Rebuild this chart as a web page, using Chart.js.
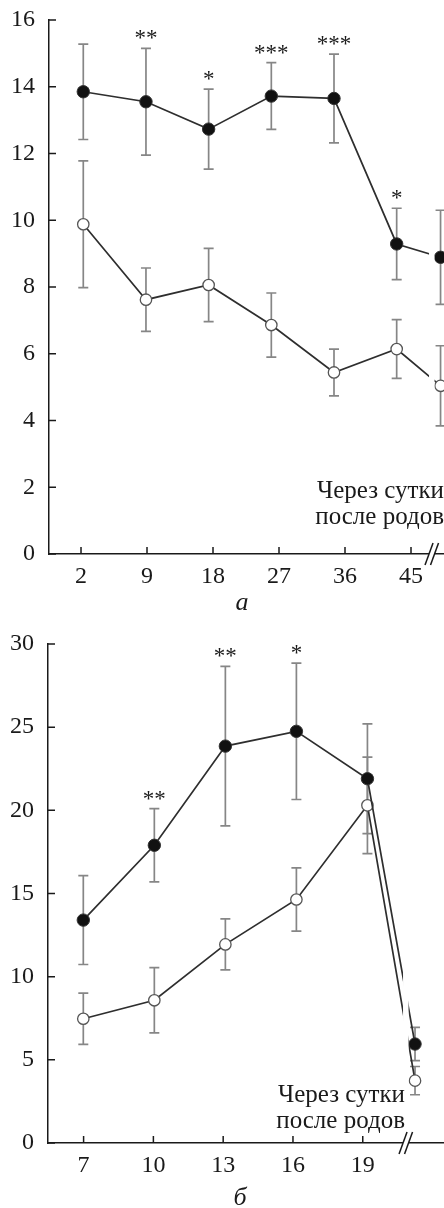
<!DOCTYPE html>
<html>
<head>
<meta charset="utf-8">
<script src="https://cdn.jsdelivr.net/npm/chart.js@4.4.1/dist/chart.umd.min.js"></script>
<style>
  html, body { margin: 0; padding: 0; background: #fff; overflow: hidden; }
  .panel { position: absolute; left: 0; width: 444px; }
  #panelA { top: 0; height: 610px; }
  #panelB { top: 610px; height: 598px; }
</style>
</head>
<body>
<div class="panel" id="panelA"><canvas id="chartA" width="444" height="610"></canvas></div>
<div class="panel" id="panelB"><canvas id="chartB" width="444" height="598"></canvas></div>
<script>
// panel а
const daysA = ['2', '9', '18', '27', '36', '45']
const slotsA = [0, 1, 2, 3, 4, 5, 5.7]          // last slot = через сутки после родов
const filledA = [13.85, 13.55, 12.73, 13.72, 13.65, 9.29, 8.89]
const filledErrA = [1.43, 1.6, 1.2, 1.0, 1.33, 1.07, 1.41]
const openA = [9.88, 7.62, 8.06, 6.86, 5.44, 6.14, 5.04]
const openErrA = [1.9, 0.95, 1.1, 0.96, 0.7, 0.88, 1.2]
const starsA = ['', '**', '*', '***', '***', '*', '']
const yTicksA = [0, 2, 4, 6, 8, 10, 12, 14, 16]

// panel б
const daysB = ['7', '10', '13', '16', '19']
const slotsB = [0, 1, 2, 3, 4, 4.67]
const filledB = [13.4, 17.9, 23.86, 24.75, 21.9, 5.95]
const filledErrB = [2.67, 2.2, 4.8, 4.1, 3.3, 1.0]
const openB = [7.47, 8.58, 11.94, 14.64, 20.3, 3.75]
const openErrB = [1.54, 1.96, 1.53, 1.9, 2.9, 0.85]
const starsB = ['', '**', '**', '*', '', '']
const yTicksB = [0, 5, 10, 15, 20, 25, 30]

const noteLines = ['Через сутки', 'после родов']

const SERIF = '"Liberation Serif", "DejaVu Serif", serif'
const INK = '#1a1a1a'

const extrasPlugin = {
    id: 'extras',
    beforeDatasetsDraw(chart) {
        // error bars go under the markers
        const ctx = chart.ctx
        const y = chart.scales.y
        ctx.save()
        ctx.strokeStyle = '#868686'
        ctx.lineWidth = 1.7
        chart.data.datasets.forEach((ds, di) => {
            chart.getDatasetMeta(di).data.forEach((pt, i) => {
                const v = ds.data[i].y
                const top = y.getPixelForValue(v + ds.err[i])
                const bot = y.getPixelForValue(v - ds.err[i])
                ctx.beginPath()
                ctx.moveTo(pt.x, top); ctx.lineTo(pt.x, bot)
                ctx.moveTo(pt.x - 5, top); ctx.lineTo(pt.x + 5, top)
                ctx.moveTo(pt.x - 5, bot); ctx.lineTo(pt.x + 5, bot)
                ctx.stroke()
            })
        })
        ctx.restore()
    },
    afterDatasetsDraw(chart) {
        const ctx = chart.ctx
        const cfg = chart.options.plugins.extras
        const area = chart.chartArea
        const xs = chart.scales.x
        const xp = chart.scales.xp
        const ys = chart.scales.y
        ctx.save()

        // axis break
        const bx = xp.getPixelForValue(cfg.breakAt)
        ctx.fillStyle = '#fff'
        ctx.fillRect(bx - 2.75, area.top, 5.5, area.bottom - area.top + 2)
        ctx.strokeStyle = INK
        ctx.lineWidth = 1.5
        ;[bx - 2.75, bx + 2.75].forEach(cx => {
            ctx.beginPath()
            ctx.moveTo(cx - 4, area.bottom + 11)
            ctx.lineTo(cx + 4, area.bottom - 11)
            ctx.stroke()
        })

        // inward tick marks
        ctx.lineWidth = 1.5
        ctx.beginPath()
        xs.ticks.forEach(t => {
            const px = xs.getPixelForValue(t.value)
            ctx.moveTo(px, area.bottom); ctx.lineTo(px, area.bottom - 7)
        })
        ys.ticks.forEach(t => {
            const py = ys.getPixelForValue(t.value)
            ctx.moveTo(area.left, py); ctx.lineTo(area.left + 7, py)
        })
        ctx.stroke()

        // note text
        ctx.fillStyle = INK
        ctx.font = '25px ' + SERIF
        ctx.textAlign = 'right'
        ctx.textBaseline = 'middle'
        ctx.fillText(noteLines[0], cfg.noteRight, area.bottom - cfg.noteUp)
        ctx.fillText(noteLines[1], cfg.noteRight, area.bottom - cfg.noteUp + 26)

        // significance marks over the filled series
        const ds = chart.data.datasets[0]
        const meta = chart.getDatasetMeta(0)
        ctx.font = '23px ' + SERIF
        ctx.textAlign = 'center'
        cfg.stars.forEach((s, i) => {
            if (!s) return
            const top = ys.getPixelForValue(ds.data[i].y + ds.err[i])
            ctx.fillText(s, meta.data[i].x, top - 9)
        })

        // panel letter
        ctx.font = 'italic 26px ' + SERIF
        ctx.fillText(cfg.letter, cfg.letterX, area.bottom + cfg.letterDown)
        ctx.restore()
    }
}

function makePanel(canvasId, p) {
    const series = (vals) => p.slots.map((x, i) => ({ x: x, y: vals[i] }))
    return new Chart(document.getElementById(canvasId), {
        type: 'line',
        data: {
            datasets: [
                {
                    data: series(p.filled), err: p.filledErr, xAxisID: 'xp',
                    borderColor: '#2e2e2e', borderWidth: 1.7, tension: 0,
                    pointRadius: 6.2, pointBackgroundColor: '#111',
                    pointBorderColor: '#333', pointBorderWidth: 1
                },
                {
                    data: series(p.open), err: p.openErr, xAxisID: 'xp',
                    borderColor: '#2e2e2e', borderWidth: 1.7, tension: 0,
                    pointRadius: 5.7, pointBackgroundColor: '#fff',
                    pointBorderColor: '#555', pointBorderWidth: 1.3
                }
            ]
        },
        options: {
            responsive: false,
            animation: false,
            layout: { autoPadding: false, padding: { top: p.padTop, left: 0, right: 0, bottom: 0 } },
            plugins: {
                legend: { display: false },
                tooltip: { enabled: false },
                extras: p.extras
            },
            scales: {
                x: {
                    type: 'linear', position: 'bottom',
                    min: p.tickMin, max: p.tickMax,
                    afterBuildTicks: (s) => { s.ticks = p.days.map((d, i) => ({ value: i })) },
                    afterFit: (s) => { s.height = p.xHeight; s.paddingLeft = 0; s.paddingRight = 0 },
                    ticks: {
                        autoSkip: false, maxRotation: 0, padding: 8,
                        color: INK, font: { family: SERIF, size: 24 },
                        callback: (v, i) => p.days[i]
                    },
                    grid: { display: false, drawTicks: false },
                    border: { color: INK, width: 1.5 }
                },
                xp: { type: 'linear', display: false, min: p.slotMin, max: p.slotMax },
                y: {
                    min: 0, max: p.yTicks[p.yTicks.length - 1],
                    afterBuildTicks: (s) => { s.ticks = p.yTicks.map(v => ({ value: v })) },
                    afterFit: (s) => { s.width = p.yWidth; s.paddingTop = 0; s.paddingBottom = 0 },
                    ticks: {
                        padding: 14, color: INK,
                        font: { family: SERIF, size: 24 }
                    },
                    grid: { display: false, drawTicks: false },
                    border: { color: INK, width: 1.5 }
                }
            }
        },
        plugins: [extrasPlugin]
    })
}

makePanel('chartA', {
    days: daysA, slots: slotsA, filled: filledA, filledErr: filledErrA,
    open: openA, openErr: openErrA, yTicks: yTicksA,
    padTop: 20, yWidth: 49, xHeight: 56,
    tickMin: -0.485, tickMax: 5.5, slotMin: -0.547, slotMax: 5.755,
    extras: { stars: starsA, breakAt: 5.56, noteRight: 444, noteUp: 63, letter: 'а', letterX: 242, letterDown: 49 }
})

makePanel('chartB', {
    days: daysB, slots: slotsB, filled: filledB, filledErr: filledErrB,
    open: openB, openErr: openErrB, yTicks: yTicksB,
    padTop: 34, yWidth: 48, xHeight: 65,
    tickMin: -0.51, tickMax: 5.164, slotMin: -0.497, slotMax: 5.078,
    extras: { stars: starsB, breakAt: 4.54, noteRight: 405, noteUp: 48, letter: 'б', letterX: 240, letterDown: 55 }
})
</script>
</body>
</html>
